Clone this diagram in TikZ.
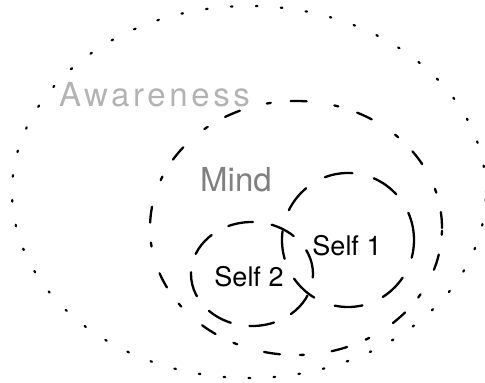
\documentclass[tikz,border=0pt]{standalone}
\usepackage{fontspec}
\setmainfont{TeX Gyre Heros}
\newfontfamily\spacedfont[LetterSpace=11]{TeX Gyre Heros}
\definecolor{awgray}{HTML}{B3B3B3}
\definecolor{mindgray}{HTML}{808080}
\tikzset{
  awline/.style={line width=2.2pt, line cap=round, dash pattern=on 1.6pt off 23.4pt},
  mindline/.style={line width=2.3pt, line cap=round, dash pattern=on 16pt off 20pt on 4pt off 28pt},
  selfline/.style={line width=2.3pt, line cap=round, dash pattern=on 28pt off 22pt},
  selftwoline/.style={line width=2.3pt, line cap=round, dash pattern=on 25pt off 19pt},
  lbl/.style={inner sep=0pt, font=\fontsize{33}{33}\selectfont}
}
\begin{document}
\begin{tikzpicture}[x=1pt,y=1pt]
\useasboundingbox (0,0) rectangle (485,383);
\draw[awline] (249,191) ellipse [x radius=237, y radius=186];
\draw[mindline] (296,155) ellipse [x radius=146, y radius=127];
\draw[selfline] (348,143) ellipse [x radius=66, y radius=67];
\draw[selftwoline] (252,109) ellipse [x radius=61, y radius=52];
\node[lbl, anchor=base west, text=awgray] (aw) at (59,276) {\spacedfont Awareness};
\node[lbl, anchor=base west, text=mindgray] (mind) at (200,191) {Mind};
\node[inner sep=0pt, anchor=base, font=\fontsize{27}{27}\selectfont] (s1) at (347,127) {Self 1};
\node[inner sep=0pt, anchor=base, font=\fontsize{27}{27}\selectfont] (s2) at (249,96) {Self 2};
\end{tikzpicture}
\end{document}
